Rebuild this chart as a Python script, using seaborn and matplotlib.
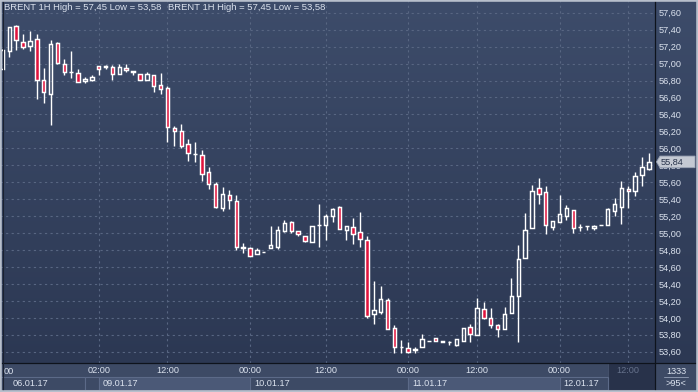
import numpy as np
import pandas as pd
import matplotlib
matplotlib.use("Agg")
import matplotlib.pyplot as plt
import seaborn as sns
from matplotlib.patches import Rectangle, Polygon
from matplotlib.lines import Line2D
from matplotlib.colors import LinearSegmentedColormap
import matplotlib.transforms as mtransforms

# ---------------- data (BRENT 1H candles) ----------------
opens = [56.94, 57.15, 57.44, 57.26, 57.21, 57.29, 56.81, 56.64, 57.24, 57.00,
         56.90, 56.89, 56.79, 56.81, 56.97, 56.96, 56.96, 56.88, 56.95, 56.90,
         56.88, 56.81, 56.86, 56.75, 56.71, 56.24, 56.21, 56.05, 55.93, 55.92,
         55.72, 55.58, 55.30, 55.45, 55.38, 54.82, 54.82, 54.75, 54.78, 54.82,
         54.83, 55.02, 55.13, 55.02, 54.96, 54.90, 55.09, 55.09, 55.20, 55.31,
         55.04, 55.07, 55.01, 54.92, 54.04, 54.07, 54.21, 53.88, 53.66, 53.64,
         53.62, 53.66, 53.73, 53.76, 53.72, 53.71, 53.68, 53.73, 53.89, 53.80,
         54.10, 54.00, 53.92, 53.87, 54.06, 54.26, 54.70, 55.06, 55.53, 55.48,
         55.07, 55.13, 55.20, 55.27, 55.07, 55.08, 55.06, 55.09, 55.10, 55.26,
         55.31, 55.52, 55.50, 55.68, 55.76]
highs = [57.17, 57.43, 57.45, 57.35, 57.38, 57.35, 56.95, 57.28, 57.26, 57.05,
         57.15, 56.94, 56.84, 56.86, 56.97, 56.98, 56.98, 56.99, 56.99, 56.91,
         56.88, 56.90, 56.86, 56.89, 56.73, 56.26, 56.29, 56.11, 56.07, 55.98,
         55.78, 55.60, 55.54, 55.51, 55.45, 54.88, 54.84, 54.82, 54.78, 55.08,
         55.08, 55.15, 55.14, 55.02, 54.96, 55.08, 55.34, 55.22, 55.30, 55.32,
         55.08, 55.18, 55.25, 54.97, 54.44, 54.37, 54.23, 53.92, 53.74, 53.72,
         53.66, 53.81, 53.73, 53.76, 53.73, 53.73, 53.75, 53.88, 53.93, 54.23,
         54.19, 54.12, 53.93, 54.13, 54.47, 54.86, 55.24, 55.57, 55.65, 55.55,
         55.14, 55.45, 55.33, 55.27, 55.11, 55.08, 55.09, 55.10, 55.30, 55.41,
         55.61, 55.56, 55.72, 55.90, 55.94]
lows = [56.93, 57.08, 57.16, 57.17, 57.15, 56.58, 56.54, 56.28, 57.00, 56.86,
        56.83, 56.78, 56.77, 56.79, 56.87, 56.94, 56.81, 56.88, 56.90, 56.86,
        56.81, 56.81, 56.66, 56.64, 56.08, 56.03, 56.00, 55.85, 55.84, 55.62,
        55.52, 55.30, 55.26, 55.28, 54.80, 54.77, 54.73, 54.75, 54.78, 54.82,
        54.81, 55.01, 55.00, 54.97, 54.89, 54.90, 54.83, 54.92, 55.13, 55.05,
        54.92, 54.87, 54.83, 54.00, 53.93, 54.04, 53.87, 53.59, 53.59, 53.58,
        53.58, 53.66, 53.73, 53.73, 53.71, 53.68, 53.67, 53.73, 53.71, 53.80,
        53.99, 53.88, 53.77, 53.87, 54.06, 53.71, 54.70, 55.06, 55.34, 54.99,
        55.04, 55.13, 55.16, 55.00, 55.02, 55.04, 55.04, 55.09, 55.10, 55.20,
        55.11, 55.30, 55.44, 55.55, 55.74]
closes = [57.16, 57.43, 57.28, 57.20, 57.27, 56.81, 56.66, 57.23, 57.01, 56.90,
          56.90, 56.78, 56.82, 56.84, 56.94, 56.97, 56.88, 56.96, 56.92, 56.91,
          56.81, 56.88, 56.74, 56.70, 56.25, 56.21, 56.03, 55.94, 55.93, 55.70,
          55.58, 55.31, 55.46, 55.39, 54.84, 54.83, 54.73, 54.80, 54.78, 54.86,
          55.04, 55.12, 55.03, 54.99, 54.91, 55.08, 55.09, 55.20, 55.28, 55.05,
          55.08, 54.99, 54.93, 54.02, 54.09, 54.22, 53.87, 53.66, 53.66, 53.60,
          53.63, 53.75, 53.73, 53.73, 53.73, 53.71, 53.75, 53.88, 53.81, 54.12,
          54.00, 53.92, 53.87, 54.05, 54.26, 54.69, 55.04, 55.50, 55.46, 55.09,
          55.14, 55.22, 55.30, 55.06, 55.07, 55.08, 55.08, 55.09, 55.28, 55.34,
          55.53, 55.50, 55.67, 55.78, 55.84]

time_tick_pos = [14, 24, 36, 47, 59, 69, 81, 91]
time_tick_labels = ["02:00", "12:00", "00:00", "12:00", "00:00", "12:00", "00:00", "12:00"]
date_labels = ["06.01.17", "", "09.01.17", "10.01.17", "11.01.17", "12.01.17"]
date_bounds = [-1, 12, 14, 36, 59, 81, 88]
price_ticks = [53.6, 53.8, 54.0, 54.2, 54.4, 54.6, 54.8, 55.0, 55.2, 55.4,
               55.6, 55.8, 56.0, 56.2, 56.4, 56.6, 56.8, 57.0, 57.2, 57.4, 57.6]
symbol = "BRENT 1H"
total_bars = "1333"

df = pd.DataFrame({"o": opens, "h": highs, "l": lows, "c": closes})
df["i"] = np.arange(len(df))
df["up"] = df["c"] >= df["o"]
df["top"] = df[["o", "c"]].max(axis=1)
df["bot"] = df[["o", "c"]].min(axis=1)

# ---------------- style ----------------
sns.set_theme(style="dark")
plt.rcParams["font.family"] = ["Liberation Sans", "DejaVu Sans"]

TOP = "#3d4c6a"
BOTTOM = "#2c3853"
AXIS_BG = "#3d4a65"
BOX_LIGHT = "#4b5977"
BOX_EDGE = "#5c6a88"
GRID = "#586682"
TXT = "#dbe2ee"
GREY_TXT = "#66728c"
RED = "#e0133d"
FS = 6.6
FS_TITLE = 6.8

W, H = 698, 392
PLOT_R, PLOT_B = 655, 363
fig = plt.figure(figsize=(W / 100, H / 100), dpi=100)
fig.patch.set_facecolor(AXIS_BG)

def fx(px):
    return px / W

def fy(py):
    return 1 - py / H

# gradient background (plot + right scale)
bg = fig.add_axes([0, fy(PLOT_B), 1, PLOT_B / H], zorder=0)
grad = np.linspace(0, 1, 256).reshape(-1, 1)
bg.imshow(grad, aspect="auto", cmap=LinearSegmentedColormap.from_list("bg", [TOP, BOTTOM]),
          extent=[0, 1, 0, 1], origin="upper")
bg.axis("off")

ax = fig.add_axes([0, fy(PLOT_B), fx(PLOT_R), PLOT_B / H], zorder=1)
ax.patch.set_alpha(0)
ax.set_xlim(-0.349, 94.88)
ax.set_ylim(53.467, 57.750)

# grid
ax.set_yticks(price_ticks)
ax.set_yticklabels([f"{v:.2f}".replace(".", ",") for v in price_ticks])
ax.set_xticks(time_tick_pos)
ax.set_xticklabels(time_tick_labels)
ax.grid(True, color=GRID, linestyle=(0, (2, 3)), linewidth=0.8)
ax.set_axisbelow(True)
ax.yaxis.tick_right()
ax.tick_params(axis="y", length=0, pad=2.6, labelsize=FS, labelcolor=TXT)
ax.tick_params(axis="x", length=0, pad=2.2, labelsize=FS, labelcolor=TXT)
ax.get_xticklabels()[-1].set_color(GREY_TXT)
for s in ax.spines.values():
    s.set_visible(False)

# candles: wicks above and below the body
ax.vlines(df["i"], df["top"], df["h"], color="white", linewidth=1.0, zorder=2)
ax.vlines(df["i"], df["l"], df["bot"], color="white", linewidth=1.0, zorder=2)
face = [(0, 0, 0, 0) if u else RED for u in df["up"]]
ax.bar(df["i"], df["c"] - df["o"], bottom=df["o"], width=0.5,
       color=face, edgecolor="white", linewidth=1.05, zorder=3)

# title
title = f"{symbol} High = {max(highs):.2f} Low = {min(lows):.2f}".replace(".", ",")
for xp in (4, 168):
    ax.text(xp / PLOT_R, 1 - 8 / PLOT_B, title, transform=ax.transAxes,
            fontsize=FS_TITLE, color=TXT, va="center", ha="left", zorder=5)

# bottom axis: date boxes
bt = mtransforms.blended_transform_factory(ax.transData, ax.transAxes)
y0 = -27 / PLOT_B
hh = 13 / PLOT_B
fills = [AXIS_BG, AXIS_BG, BOX_LIGHT, AXIS_BG, BOX_LIGHT, AXIS_BG]
for k, lab in enumerate(date_labels):
    a, b = date_bounds[k], date_bounds[k + 1]
    ax.add_patch(Rectangle((a, y0), b - a, hh, transform=bt, facecolor=fills[k],
                           edgecolor=BOX_EDGE, linewidth=0.8, clip_on=False, zorder=0.5))
    if lab:
        xt = max(a, 0.95) + 0.6
        ax.text(xt, y0 + hh / 2, lab, transform=bt, fontsize=FS, color=TXT,
                ha="left", va="center", clip_on=False)
# future (inactive) area
ax.add_patch(Rectangle((date_bounds[-1], y0), 94.88 - date_bounds[-1], -y0, transform=bt,
                       facecolor="#28324a", edgecolor="#44506a", linewidth=0.8,
                       clip_on=False, zorder=0.4))
ax.text(4 / PLOT_R, -8 / PLOT_B, "00", transform=ax.transAxes, fontsize=FS,
        color=TXT, ha="left", va="center", clip_on=False)

# right bottom panel
fig.text(fx(676), fy(371), total_bars, fontsize=FS, color=TXT, ha="center", va="center")
fig.add_artist(Line2D([fx(664), fx(688)], [fy(377), fy(377)], color="#8a96ad", lw=0.7))
fig.text(fx(676), fy(383.5), f">{len(opens)}<", fontsize=FS, color=TXT, ha="center", va="center")

# last price marker
last = closes[-1]
pt = mtransforms.blended_transform_factory(fig.transFigure, ax.transData)
dy = 5.8 / 84.75
poly = Polygon([(fx(656.5), last), (fx(660), last + dy), (fx(695), last + dy),
                (fx(695), last - dy), (fx(660), last - dy)], closed=True,
               transform=pt, facecolor="#c4c9d3", edgecolor="#9aa3b4", lw=0.6,
               clip_on=False, zorder=6)
fig.add_artist(poly)
fig.text(fx(661), last, f"{last:.2f}".replace(".", ","), transform=pt, fontsize=FS,
         color="#27324a", ha="left", va="center", zorder=7)

# separators and frame
fig.add_artist(Line2D([0, 1], [fy(PLOT_B), fy(PLOT_B)], color="#0e131c", lw=0.9))
fig.add_artist(Line2D([fx(PLOT_R), fx(PLOT_R)], [0, 1], color="#0e131c", lw=0.9))
fig.add_artist(Line2D([fx(2.6), fx(2.6)], [0, 1], color="#1a2130", lw=0.8))
fig.add_artist(Rectangle((0, 0), 1, 1, transform=fig.transFigure, fill=False,
                         edgecolor="#b7bfcc", linewidth=2.6, zorder=20))

fig.savefig("out.png", dpi=100, facecolor=fig.get_facecolor())
